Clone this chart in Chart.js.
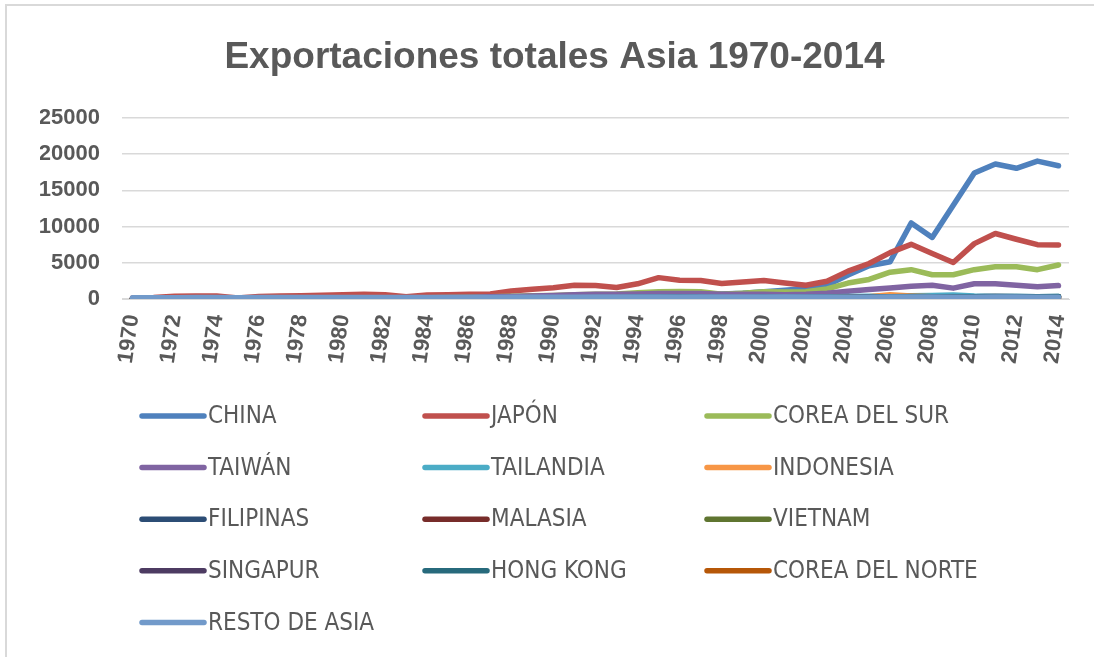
<!DOCTYPE html>
<html>
<head>
<meta charset="utf-8">
<script src="https://cdn.jsdelivr.net/npm/chart.js@4"></script>
<style>
  html, body { margin: 0; padding: 0; background: #fff; }
  #wrap { position: relative; width: 1094px; height: 657px; overflow: hidden; }
  #frame { position: absolute; left: 5px; top: 4px; width: 1200px; height: 800px; border: 2px solid #d9d9d9; }
  canvas { position: absolute; left: 0; top: 0; }
</style>
</head>
<body>
<div id="wrap">
  <div id="frame"></div>
  <canvas id="exportChart" width="1094" height="657"></canvas>
</div>
<script>
const years = ['1970','1971','1972','1973','1974','1975','1976','1977','1978','1979',
  '1980','1981','1982','1983','1984','1985','1986','1987','1988','1989',
  '1990','1991','1992','1993','1994','1995','1996','1997','1998','1999',
  '2000','2001','2002','2003','2004','2005','2006','2007','2008','2009',
  '2010','2011','2012','2013','2014'];

const china = [60, 60, 70, 80, 90, 80, 90, 100, 110, 130,
  150, 160, 170, 150, 180, 200, 220, 250, 300, 320,
  350, 400, 450, 480, 530, 580, 600, 650, 700, 800,
  990, 1200, 1450, 1900, 3300, 4600, 5150, 10500, 8500, 12950,
  17400, 18650, 18050, 19050, 18400];
const japon = [150, 200, 380, 420, 430, 150, 350, 400, 450, 530,
  600, 640, 600, 300, 550, 600, 650, 700, 1100, 1350,
  1550, 1900, 1850, 1600, 2100, 2950, 2600, 2550, 2150, 2350,
  2550, 2200, 1900, 2450, 3850, 4900, 6400, 7550, 6280, 5050,
  7650, 9050, 8250, 7500, 7450];
const coreaSur = [20, 30, 40, 60, 70, 60, 80, 100, 120, 140,
  150, 160, 170, 150, 180, 200, 250, 300, 380, 450,
  500, 600, 650, 700, 850, 1000, 1050, 1000, 650, 800,
  1000, 950, 1000, 1400, 2200, 2700, 3700, 4050, 3350, 3350,
  4050, 4450, 4450, 4050, 4700];
const taiwan = [20, 30, 40, 50, 60, 50, 70, 90, 110, 130,
  150, 160, 170, 150, 180, 200, 250, 300, 350, 400,
  480, 580, 640, 650, 700, 750, 760, 750, 650, 650,
  650, 600, 650, 780, 1080, 1300, 1530, 1750, 1900, 1500,
  2100, 2100, 1900, 1680, 1850];
const tailandia = [10, 10, 15, 20, 20, 20, 25, 30, 35, 40,
  45, 50, 55, 50, 60, 70, 80, 100, 120, 140,
  160, 180, 200, 210, 230, 250, 260, 250, 200, 220,
  240, 230, 240, 280, 330, 380, 420, 450, 480, 560,
  400, 350, 330, 320, 330];
const indonesia = [10, 10, 15, 20, 25, 20, 25, 30, 35, 40,
  50, 55, 60, 50, 55, 60, 70, 80, 90, 100,
  110, 120, 130, 140, 150, 160, 170, 160, 120, 130,
  150, 140, 150, 180, 250, 320, 600, 420, 300, 250,
  280, 300, 280, 260, 250];
const filipinas = [5, 5, 8, 10, 10, 10, 12, 15, 18, 20,
  22, 25, 25, 22, 25, 28, 30, 35, 40, 45,
  50, 55, 60, 62, 65, 70, 75, 72, 60, 65,
  70, 68, 70, 80, 90, 100, 110, 120, 115, 110,
  120, 130, 125, 120, 125];
const malasia = [10, 10, 12, 15, 18, 15, 18, 22, 25, 30,
  35, 40, 42, 38, 42, 48, 55, 60, 70, 80,
  90, 100, 110, 120, 130, 150, 160, 150, 120, 130,
  140, 130, 140, 160, 190, 230, 270, 300, 280, 250,
  300, 320, 310, 300, 310];
const vietnam = [0, 0, 0, 0, 0, 0, 2, 3, 4, 5,
  5, 6, 6, 5, 6, 7, 8, 10, 12, 15,
  20, 25, 30, 35, 40, 45, 50, 55, 50, 55,
  60, 65, 70, 80, 90, 100, 120, 140, 150, 160,
  180, 200, 220, 240, 260];
const singapur = [15, 15, 18, 22, 25, 22, 25, 30, 35, 40,
  45, 50, 55, 50, 55, 60, 70, 80, 90, 100,
  120, 140, 150, 160, 170, 180, 190, 185, 150, 160,
  170, 160, 170, 190, 220, 260, 290, 320, 300, 270,
  310, 330, 320, 310, 320];
const hongKong = [20, 20, 25, 30, 35, 30, 35, 40, 45, 50,
  60, 65, 70, 65, 70, 75, 85, 95, 110, 120,
  140, 160, 170, 180, 190, 200, 210, 200, 170, 180,
  190, 180, 190, 210, 240, 270, 300, 330, 310, 280,
  320, 340, 330, 320, 330];
const coreaNorte = [0, 0, 0, 0, 0, 0, 0, 0, 0, 0,
  0, 0, 0, 0, 0, 0, 0, 0, 0, 0,
  0, 0, 0, 0, 0, 0, 0, 0, 0, 0,
  0, 0, 0, 0, 0, -30, -60, -80, -120, -180,
  -60, -20, 0, 0, 0];
const restoAsia = [180, 180, 185, 190, 190, 185, 190, 195, 200, 200,
  205, 210, 210, 200, 205, 210, 215, 220, 225, 230,
  235, 240, 240, 240, 245, 250, 250, 250, 240, 240,
  245, 240, 240, 245, 250, 255, 260, 265, 260, 250,
  255, 260, 260, 255, 255];

const seriesNames = ['CHINA', 'JAPÓN', 'COREA DEL SUR', 'TAIWÁN', 'TAILANDIA', 'INDONESIA',
  'FILIPINAS', 'MALASIA', 'VIETNAM', 'SINGAPUR', 'HONG KONG', 'COREA DEL NORTE', 'RESTO DE ASIA'];
const seriesValues = [china, japon, coreaSur, taiwan, tailandia, indonesia,
  filipinas, malasia, vietnam, singapur, hongKong, coreaNorte, restoAsia];
const seriesColors = ['#4F81BD', '#C0504D', '#9BBB59', '#8064A2', '#4BACC6', '#F79646',
  '#2C4D75', '#772C2A', '#5F7530', '#4D3B62', '#276A7C', '#B65708', '#729ACA'];

const textGray = '#595959';
const gridGray = '#d9d9d9';

// leyenda en rejilla de 3 columnas (como en Excel)
const gridLegend = {
  id: 'gridLegend',
  afterDraw(chart) {
    const ctx = chart.ctx;
    const colX = [142, 425, 707];
    const firstRowY = 416;
    const rowStep = 51.6;
    ctx.save();
    ctx.font = '24px "DejaVu Sans Condensed", "Liberation Sans", sans-serif';
    ctx.textBaseline = 'middle';
    ctx.textAlign = 'left';
    chart.data.datasets.forEach((ds, i) => {
      const x = colX[i % 3];
      const y = firstRowY + Math.floor(i / 3) * rowStep;
      ctx.strokeStyle = ds.borderColor;
      ctx.lineWidth = 5.5;
      ctx.lineCap = 'round';
      ctx.beginPath();
      ctx.moveTo(x, y);
      ctx.lineTo(x + 62, y);
      ctx.stroke();
      ctx.fillStyle = textGray;
      ctx.fillText(ds.label, x + 66, y + 1);
    });
    ctx.restore();
  }
};

const datasets = seriesNames.map((name, i) => ({
  label: name,
  data: seriesValues[i],
  borderColor: seriesColors[i],
  backgroundColor: seriesColors[i],
  borderWidth: 5.5,
  pointRadius: 0,
  tension: 0,
  fill: false,
  borderCapStyle: 'round',
  borderJoinStyle: 'round',
  order: -i   // la última serie se dibuja encima
}));

const exportChart = new Chart(document.getElementById('exportChart'), {
  type: 'line',
  data: { labels: years, datasets: datasets },
  options: {
    responsive: false,
    animation: false,
    devicePixelRatio: 1,
    layout: { padding: { top: 0, left: 40, right: 25, bottom: 288 } },
    plugins: {
      legend: { display: false },
      tooltip: { enabled: false },
      title: {
        display: true,
        text: 'Exportaciones totales Asia 1970-2014',
        color: textGray,
        font: { family: 'Liberation Sans', weight: 'bold', size: 37 },
        padding: { top: 36, bottom: 37.6 }
      }
    },
    scales: {
      x: {
        offset: true,
        grid: { display: false, drawTicks: false },
        border: { display: true, color: gridGray, width: 1 },
        ticks: {
          autoSkip: false,
          minRotation: 82,
          maxRotation: 82,
          padding: 14,
          color: textGray,
          font: { family: 'Liberation Sans', weight: 'bold', size: 22 },
          callback: function (v, i) { return i % 2 === 0 ? this.getLabelForValue(v) : ''; }
        },
        afterFit: (scale) => {
          scale.height = 70;
          scale.paddingLeft = 0;
          scale.paddingRight = 0;
        }
      },
      y: {
        min: 0,
        max: 25000,
        grid: { color: gridGray, lineWidth: 1.5, drawTicks: false },
        border: { display: false },
        ticks: {
          stepSize: 5000,
          padding: 22,
          color: textGray,
          font: { family: 'Liberation Sans', weight: 'bold', size: 22 },
          callback: (v) => String(v)
        },
        afterFit: (scale) => { scale.width = 82; }
      }
    }
  },
  plugins: [gridLegend]
});
</script>
</body>
</html>
